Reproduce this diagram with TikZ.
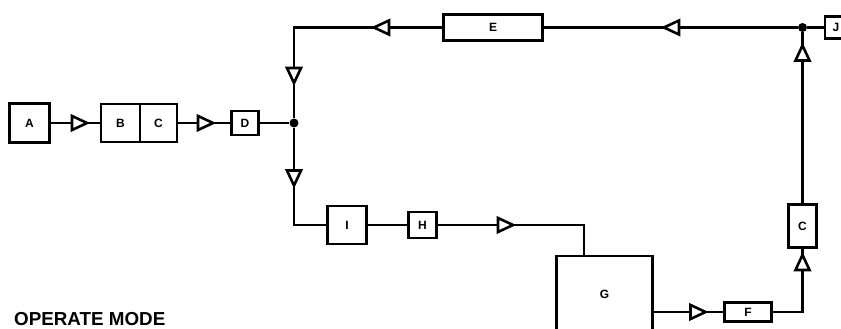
\documentclass[tikz,border=0pt]{standalone}
\usepackage{fontspec}
\setmainfont{Liberation Sans}
\usetikzlibrary{shapes.geometric,calc}
\begin{document}
\begin{tikzpicture}[x=1pt,y=-1pt,
  box/.style={draw,line width=2.6pt,inner sep=0pt,font=\bfseries\fontsize{12}{12}\selectfont},
  wire/.style={line width=2.4pt},
  tri/.style={draw,fill=white,line width=2.6pt,isosceles triangle,isosceles triangle stretches,minimum width=14pt,minimum height=15pt,inner sep=0pt},
  dot/.style={circle,fill,inner sep=0pt,minimum size=9pt}]
\useasboundingbox (0,0) rectangle (841,329);
% boxes
\node[box,minimum width=40pt,minimum height=39pt] (A) at (29.5,123) {A};
\node[box,minimum width=39pt,minimum height=38pt] (B) at (120.5,123) {B};
\node[box,minimum width=37pt,minimum height=38pt] (C1) at (158.5,123) {C};
\node[box,minimum width=27pt,minimum height=24pt] (D) at (245,123) {D};
\node[dot] (j1) at (294,123) {};
\coordinate (k1) at (294,27.5);
\node[box,minimum width=99pt,minimum height=26pt] (E) at (493,27.5) {E};
\node[dot] (j2) at (802.5,27.5) {};
\node[box,minimum width=22pt,minimum height=22pt] (J) at (836,27.5) {J};
\node[box,minimum width=28pt,minimum height=43pt] (C2) at (802.5,226) {C};
\node[box,minimum width=47pt,minimum height=19pt] (F) at (748,312) {F};
\node[box,minimum width=96pt,minimum height=76pt] (G) at (604.5,294) {G};
\node[box,minimum width=39pt,minimum height=38pt] (I) at (347,225) {I};
\node[box,minimum width=28pt,minimum height=26pt] (H) at (422.5,225) {H};
\coordinate (k2) at (294,225);
\coordinate (k3) at (584,225);
% wires
\draw[wire] (A) -- (B);
\draw[wire] (C1) -- (D);
\draw[wire] (D) -- (j1);
\draw[wire] (j1) -- (k1) -- (E);
\draw[wire] (E) -- (j2);
\draw[wire] (j2) -- (J);
\draw[wire] (C2) -- (j2);
\draw[wire] (F) -| (C2);
\draw[wire] (G.east |- F.west) -- (F);
\draw[wire] (j1) -- (k2) -- (I);
\draw[wire] (I) -- (H);
\draw[wire] (H) -- (k3) -- (k3 |- G.north);
% triangles
\node[tri] (t1) at (76.5,123) {};
\node[tri] (t2) at (202.5,123) {};
\node[tri,rotate=-90] (t3) at (294,72.5) {};
\node[tri,rotate=180] (t4) at (384.5,27.5) {};
\node[tri,rotate=180] (t5) at (674.5,27.5) {};
\node[tri,rotate=90] (t6) at (802.5,56) {};
\node[tri,rotate=-90] (t7) at (294,175) {};
\node[tri] (t8) at (502.5,225) {};
\node[tri] (t9) at (695,312) {};
\node[tri,rotate=90] (t10) at (802.5,265.5) {};
% caption
\node[anchor=base west,inner sep=0pt,font=\bfseries\fontsize{18.8}{19}\selectfont] (mode) at (14,325) {OPERATE MODE};
\end{tikzpicture}
\end{document}
